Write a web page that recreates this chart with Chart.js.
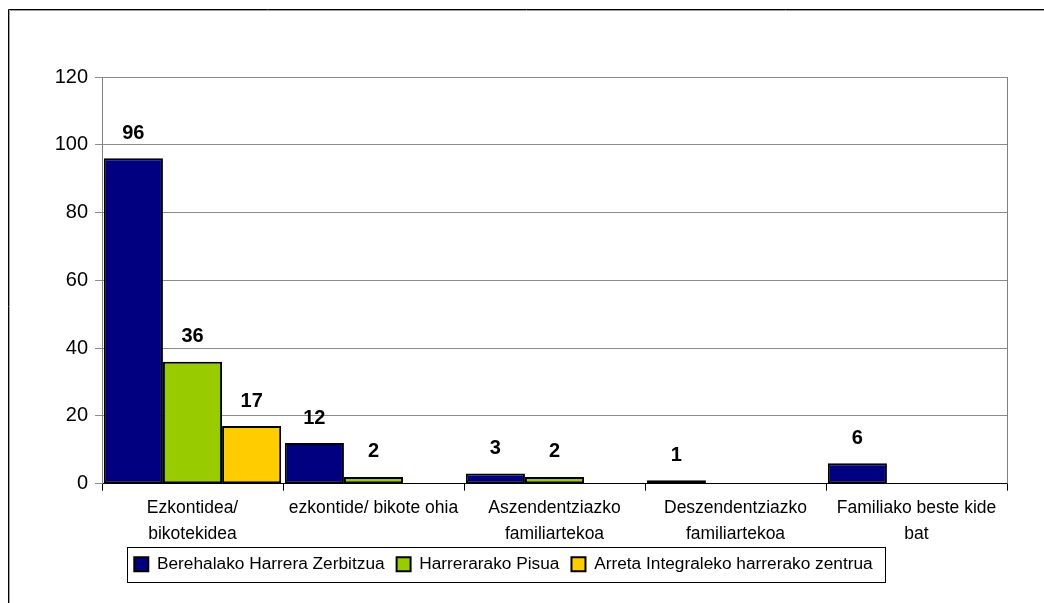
<!DOCTYPE html>
<html>
<head>
<meta charset="utf-8">
<script src="https://cdn.jsdelivr.net/npm/chart.js@4/dist/chart.umd.min.js"></script>
<style>
html,body{margin:0;padding:0;background:#fff;overflow:hidden;}
canvas{display:block;}
</style>
</head>
<body>
<canvas id="c" width="1044" height="603"></canvas>
<script>
const categories = [
  ["Ezkontidea/", "bikotekidea"],
  ["ezkontide/ bikote ohia"],
  ["Aszendentziazko", "familiartekoa"],
  ["Deszendentziazko", "familiartekoa"],
  ["Familiako beste kide", "bat"]
];
const seriesNames = ["Berehalako Harrera Zerbitzua", "Harrerarako Pisua", "Arreta Integraleko harrerako zentrua"];
const berehalako = [96, 12, 3, 1, 6];
const pisua = [36, 2, 2, null, null];
const arreta = [17, null, null, null, null];
const yTicks = [0, 20, 40, 60, 80, 100, 120];

const FONT = "'Liberation Sans', Arial, sans-serif";

const framePlugin = {
  id: 'frame',
  beforeDraw(chart) {
    const ctx = chart.ctx;
    ctx.save();
    ctx.fillStyle = '#fff';
    ctx.fillRect(0, 0, chart.width, chart.height);
    ctx.strokeStyle = '#000';
    ctx.lineWidth = 1;
    ctx.beginPath();
    ctx.moveTo(8.5, chart.height); ctx.lineTo(8.5, 9.5); ctx.lineTo(chart.width, 9.5);
    ctx.stroke();
    ctx.strokeStyle = '#a0a0a0';
    ctx.beginPath();
    ctx.moveTo(9.5, chart.height); ctx.lineTo(9.5, 10.5); ctx.lineTo(chart.width, 10.5);
    ctx.stroke();
    ctx.restore();
  },
  afterDatasetsDraw(chart) {
    const ctx = chart.ctx;
    const a = chart.chartArea;
    ctx.save();
    ctx.strokeStyle = '#808080';
    ctx.lineWidth = 1;
    ctx.beginPath();
    ctx.moveTo(Math.round(a.right) + 0.5, a.top);
    ctx.lineTo(Math.round(a.right) + 0.5, a.bottom);
    ctx.stroke();
    ctx.fillStyle = '#000';
    ctx.font = 'bold 20px ' + FONT;
    ctx.textAlign = 'center';
    ctx.textBaseline = 'middle';
    chart.data.datasets.forEach((ds, di) => {
      const meta = chart.getDatasetMeta(di);
      meta.data.forEach((bar, i) => {
        const v = ds.data[i];
        if (v === null || v === undefined) return;
        ctx.fillText(String(v), bar.x, bar.y - 25);
      });
    });
    ctx.restore();
  },
  afterDraw(chart) {
    const lg = chart.legend;
    if (!lg || !lg.legendHitBoxes || !lg.legendHitBoxes.length) return;
    const hb = lg.legendHitBoxes;
    const first = hb[0], last = hb[hb.length - 1];
    const ctx = chart.ctx;
    ctx.save();
    ctx.strokeStyle = '#000';
    ctx.lineWidth = 1;
    const l = Math.round(first.left - 7) + 0.5;
    const r = Math.round(last.left + last.width + 12) + 0.5;
    const t = Math.round(first.top - 9) + 0.5;
    const b = Math.round(first.top + first.height + 9) + 0.5;
    ctx.strokeRect(l, t, r - l, b - t);
    ctx.restore();
  }
};

const colors = ['#000080', '#99CC00', '#FFCC00'];
const seriesData = [berehalako, pisua, arreta];

new Chart(document.getElementById('c'), {
  type: 'bar',
  data: {
    labels: categories,
    datasets: seriesData.map((d, i) => ({
      label: seriesNames[i],
      data: d,
      backgroundColor: colors[i],
      borderColor: '#000',
      borderWidth: 2,
      borderSkipped: false,
      categoryPercentage: 0.98,
      barPercentage: 1.0
    }))
  },
  options: {
    responsive: false,
    devicePixelRatio: 1,
    animation: false,
    layout: { padding: { left: 0, right: 37, top: 77, bottom: 20 } },
    plugins: {
      title: { display: false },
      tooltip: { enabled: false },
      legend: {
        display: true,
        position: 'bottom',
        align: 'center',
        labels: {
          color: '#000',
          font: { family: FONT, size: 17.3 },
          boxWidth: 14,
          boxHeight: 14,
          padding: 12
        }
      }
    },
    scales: {
      x: {
        grid: {
          display: true,
          drawOnChartArea: false,
          drawTicks: true,
          tickLength: 7,
          color: '#000',
          offset: true
        },
        border: { display: true, color: '#000', width: 1 },
        ticks: {
          color: '#000',
          font: { family: FONT, size: 17.5, lineHeight: 1.5 },
          padding: 4,
          maxRotation: 0,
          autoSkip: false
        },
        afterFit(s) { s.height = 60; }
      },
      y: {
        min: 0,
        max: 120,
        afterBuildTicks(s) { s.ticks = yTicks.map(v => ({ value: v })); },
        grid: {
          color: '#8c8c8c',
          lineWidth: 1,
          tickLength: 7,
          drawTicks: true
        },
        border: { display: true, color: '#808080', width: 1 },
        ticks: {
          color: '#000',
          font: { family: FONT, size: 20 },
          padding: 7
        },
        afterFit(s) { s.width = 102; }
      }
    }
  },
  plugins: [framePlugin]
});
</script>
</body>
</html>
